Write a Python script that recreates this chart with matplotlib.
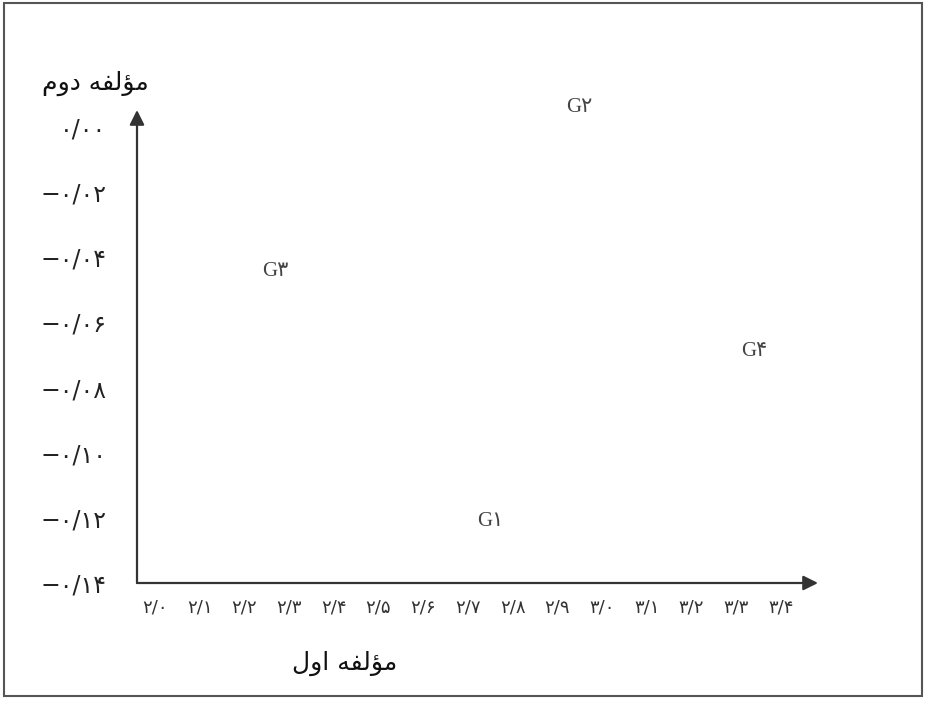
import matplotlib
matplotlib.use('Agg')
import matplotlib.pyplot as plt
from matplotlib.patches import Rectangle

# data
groups = ['G1', 'G2', 'G3', 'G4']
comp1 = [2.75, 2.95, 2.27, 3.34]
comp2 = [-0.121, 0.006, -0.0445, -0.069]
xticks = [2.0, 2.1, 2.2, 2.3, 2.4, 2.5, 2.6, 2.7, 2.8, 2.9, 3.0, 3.1, 3.2, 3.3, 3.4]
yticks = [0.00, -0.02, -0.04, -0.06, -0.08, -0.10, -0.12, -0.14]
xlabel = 'مؤلفه اول'
ylabel = 'مؤلفه دوم'

FA = str.maketrans('0123456789.-', '۰۱۲۳۴۵۶۷۸۹/−')

# isolated, final, initial, medial
FORMS = {
  'م': ('\uFEE1', '\uFEE2', '\uFEE3', '\uFEE4'),
  'ل': ('\uFEDD', '\uFEDE', '\uFEDF', '\uFEE0'),
  'ف': ('\uFED1', '\uFED2', '\uFED3', '\uFED4'),
  'ه': ('\uFEE9', '\uFEEA', '\uFEEB', '\uFEEC'),
  'ؤ': ('\uFE85', '\uFE86', '\uFE85', '\uFE86'),
  'د': ('\uFEA9', '\uFEAA', '\uFEA9', '\uFEAA'),
  'و': ('\uFEED', '\uFEEE', '\uFEED', '\uFEEE'),
  'ا': ('\uFE8D', '\uFE8E', '\uFE8D', '\uFE8E'),
}
RIGHT_ONLY = set('ؤدوا')

def shape( s ):
  out = []
  for i, c in enumerate( s ):
    if c not in FORMS:
      out.append( c )
      continue
    prev = s[ i - 1 ] if i > 0 else ' '
    nxt = s[ i + 1 ] if i + 1 < len( s ) else ' '
    jp = prev in FORMS and prev not in RIGHT_ONLY
    jn = c not in RIGHT_ONLY and nxt in FORMS
    k = 3 if ( jp and jn ) else 1 if jp else 2 if jn else 0
    out.append( FORMS[ c ][ k ] )
  return ''.join( reversed( out ) )

def fa( v, fmt ):
  return format( v, fmt ).translate( FA )

W, H = 928, 702
fig = plt.figure( figsize=( W / 100, H / 100 ), dpi=100 )
x0, y0, x1, y1 = 137, 583, 818, 110
ax = fig.add_axes( [ x0 / W, 1 - y0 / H, ( x1 - x0 ) / W, ( y0 - y1 ) / H ] )
ax.set_xlim( 2.0 - 18 / 447, 2.0 + ( x1 - 155 ) / 447 )
ax.set_ylim( -0.14, ( 127 - y1 ) / 3257 )
for s in ax.spines.values():
  s.set_visible( False )

arrow = dict( arrowstyle='-|>', color='#333333', lw=1.6, mutation_scale=22, shrinkA=0, shrinkB=0 )
ax.annotate( '', xy=( 1, 0 ), xytext=( 0, 0 ), xycoords='axes fraction', arrowprops=arrow, annotation_clip=False )
ax.annotate( '', xy=( 0, 1 ), xytext=( 0, 0 ), xycoords='axes fraction', arrowprops=arrow, annotation_clip=False )

ax.set_xticks( xticks )
ax.set_xticklabels( [ fa( v, '.1f' ) for v in xticks ], fontsize=13, color='#333333' )
ax.set_yticks( yticks )
ax.set_yticklabels( [ fa( v, '.2f' ) for v in yticks ], fontsize=17, color='#222222' )
ax.tick_params( axis='x', length=0, pad=11 )
ax.tick_params( axis='y', length=0, pad=22 )

for g, x, y in zip( groups, comp1, comp2 ):
  ax.text( x, y, g.translate( FA ), ha='center', va='center', fontsize=15, color='#444444',
           family=[ 'Liberation Serif', 'DejaVu Sans' ] )

fig.text( 95 / W, 1 - 83 / H, shape( ylabel ), ha='center', va='center', fontsize=18, color='#111111' )
fig.text( 345 / W, 1 - 663 / H, shape( xlabel ), ha='center', va='center', fontsize=18, color='#111111' )

fig.patches.append( Rectangle( ( 4 / W, 1 - 696 / H ), 918 / W, 693 / H, transform=fig.transFigure,
                               fill=False, edgecolor='#555555', lw=1.5 ) )

fig.savefig( 'out.png', dpi=100 )
